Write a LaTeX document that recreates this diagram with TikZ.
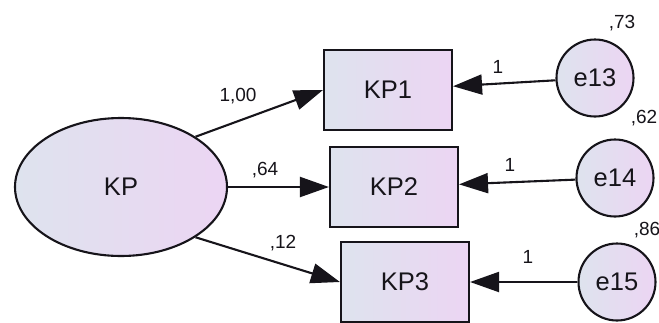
\documentclass[tikz,border=0pt]{standalone}
\usepackage{fontspec}
\setmainfont{Liberation Sans}
\usetikzlibrary{arrows.meta,shapes.geometric}
\definecolor{shadeL}{RGB}{222,227,238}
\definecolor{shadeR}{RGB}{236,213,243}
\definecolor{ink}{RGB}{22,20,26}
\tikzset{
  var/.style={draw=ink, line width=2.1pt, left color=shadeL, right color=shadeR,
    inner sep=0pt, font=\fontsize{25.5}{25.5}\selectfont, text=ink},
  latent/.style={var, ellipse, minimum width=212pt, minimum height=138pt},
  observed/.style={var, rectangle, minimum width=128pt, minimum height=80pt},
  errvar/.style={var, circle, minimum size=77pt},
  path/.style={draw=ink, line width=2.1pt, -{Triangle[length=29pt,width=20pt]}},
  coef/.style={font=\fontsize{19}{19}\selectfont, text=ink, inner sep=0pt}
}
\begin{document}
\begin{tikzpicture}[x=1pt, y=-1pt]
  \useasboundingbox (0,0) rectangle (659,322);
  % latent factor
  \node[latent] (KP) at (121,187) {KP};
  % indicators
  \node[observed] (KP1) at (388,90) {KP1};
  \node[observed] (KP2) at (394,187) {KP2};
  \node[observed] (KP3) at (405,282) {KP3};
  % error terms
  \node[errvar] (e13) at (595,78) {e13};
  \node[errvar] (e14) at (615,178) {e14};
  \node[errvar] (e15) at (617,282) {e15};
  % loadings
  \draw[path] (KP.34) -- (KP1.west);
  \draw[path] (KP.east) -- (KP2.west);
  \draw[path] (KP.-34) -- (KP3.west);
  % error paths
  \draw[path] (e13) -- (KP1);
  \draw[path] (e14) -- (KP2);
  \draw[path] (e15) -- (KP3);
  % estimates
  \node[coef] (l1) at (238,96) {1,00};
  \node[coef] (l2) at (265,170) {,64};
  \node[coef] (l3) at (283,243) {,12};
  \node[coef] (w1) at (498,67) {1};
  \node[coef] (w2) at (510,165) {1};
  \node[coef] (w3) at (528,257) {1};
  \node[coef] (v1) at (622,23) {,73};
  \node[coef] (v2) at (644,118) {,62};
  \node[coef] (v3) at (647,230) {,86};
\end{tikzpicture}
\end{document}
